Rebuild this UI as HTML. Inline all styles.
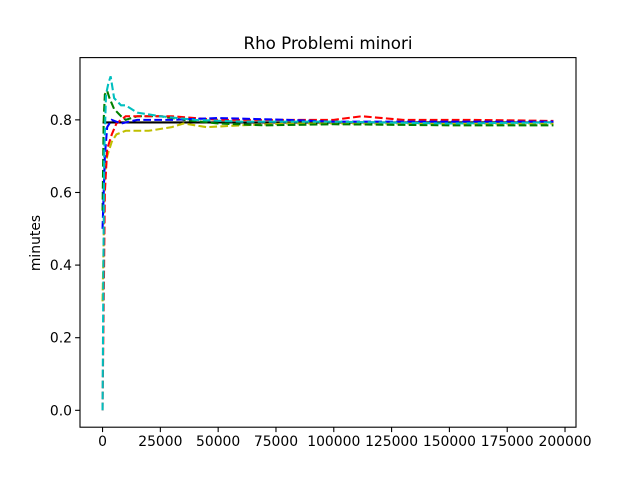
<!DOCTYPE html>
<html><head><meta charset="utf-8"><style>
body{margin:0;background:#fff;}
svg text{font-family:"DejaVu Sans","Liberation Sans",sans-serif;fill:#000;}
</style></head><body>
<svg id="chart" width="640" height="480" xmlns="http://www.w3.org/2000/svg">
<rect width="640" height="480" fill="#fff"/>
<text x="328" y="49" font-size="16.7" text-anchor="middle">Rho Problemi minori</text>
<text transform="translate(40,243) rotate(-90)" font-size="13.9" text-anchor="middle">minutes</text>
<g id="plot"></g>
<g id="axes"></g>
</svg>
<script>
const xTicks=[0,25000,50000,75000,100000,125000,150000,175000,200000];
const yTicks=[0.0,0.2,0.4,0.6,0.8];
const refX=[0,195000];
const refY=[0.793,0.793];
const redX=[0,500,1000,2000,4000,6000,10000,20000,30000,50000,80000,100000,112000,130000,160000,195000];
const redY=[0.0,0.3,0.6,0.72,0.76,0.79,0.81,0.81,0.81,0.80,0.80,0.80,0.81,0.80,0.80,0.797];
const blueX=[0,1000,2000,4000,8000,15000,30000,50000,80000,100000,150000,195000];
const blueY=[0.5,0.7,0.78,0.80,0.79,0.80,0.80,0.805,0.80,0.795,0.795,0.795];
const greenX=[0,500,1000,2000,3000,5000,8000,10000,15000,25000,35000,50000,70000,100000,150000,195000];
const greenY=[0.55,0.8,0.87,0.88,0.86,0.83,0.81,0.80,0.81,0.81,0.80,0.79,0.785,0.788,0.785,0.785];
const yellowX=[0,1000,2000,4000,6000,10000,20000,30000,35000,45000,60000,80000,100000,150000,195000];
const yellowY=[0.3,0.65,0.7,0.74,0.76,0.77,0.77,0.78,0.79,0.78,0.785,0.79,0.79,0.79,0.79];
const cyanX=[0,300,700,1500,2500,3500,5000,8000,10000,15000,25000,40000,60000,100000,150000,195000];
const cyanY=[0.0,0.3,0.7,0.87,0.90,0.92,0.86,0.84,0.84,0.82,0.81,0.80,0.795,0.795,0.79,0.793];

const L=80,R=576,T=57.6,B=427.2;
const xmin=-9750,xmax=204750,ymin=-0.0465,ymax=0.9715;
const sx=v=>L+(v-xmin)/(xmax-xmin)*(R-L);
const sy=v=>B-(v-ymin)/(ymax-ymin)*(B-T);
const NS="http://www.w3.org/2000/svg";
const plot=document.getElementById('plot'),axes=document.getElementById('axes');
function line(xs,ys,color,dash,name){
  const p=document.createElementNS(NS,'polyline');
  p.setAttribute('points',xs.map((x,i)=>sx(x)+','+sy(ys[i])).join(' '));
  p.setAttribute('fill','none');p.setAttribute('stroke',color);p.setAttribute('stroke-width','2.08');
  if(dash)p.setAttribute('stroke-dasharray','7.7,3.3');
  
  
  plot.appendChild(p);
}
line(refX,refY,'#000',false,'reference-line');
line(yellowX,yellowY,'#bfbf00',true,'series-yellow');
line(greenX,greenY,'#008000',true,'series-green');
line(redX,redY,'#ff0000',true,'series-red');
line(blueX,blueY,'#0000ff',true,'series-blue');
line(cyanX,cyanY,'#00bfbf',true,'series-cyan');
const fr=document.createElementNS(NS,'rect');
fr.setAttribute('x',L);fr.setAttribute('y',T);fr.setAttribute('width',R-L);fr.setAttribute('height',B-T);
fr.setAttribute('fill','none');fr.setAttribute('stroke','#000');fr.setAttribute('stroke-width','1.1');


axes.appendChild(fr);
xTicks.forEach(v=>{
  const x=sx(v);
  const t=document.createElementNS(NS,'line');
  t.setAttribute('x1',x);t.setAttribute('x2',x);t.setAttribute('y1',B);t.setAttribute('y2',B+4.9);
  t.setAttribute('stroke','#000');t.setAttribute('stroke-width','1.1');
  
  
  axes.appendChild(t);
  const tx=document.createElementNS(NS,'text');
  tx.setAttribute('x',x);tx.setAttribute('y',B+19);tx.setAttribute('font-size','13.9');tx.setAttribute('text-anchor','middle');
  tx.textContent=String(v);
  
  
  axes.appendChild(tx);
});
yTicks.forEach(v=>{
  const y=sy(v);
  const t=document.createElementNS(NS,'line');
  t.setAttribute('x1',L-4.9);t.setAttribute('x2',L);t.setAttribute('y1',y);t.setAttribute('y2',y);
  t.setAttribute('stroke','#000');t.setAttribute('stroke-width','1.1');
  
  
  axes.appendChild(t);
  const tx=document.createElementNS(NS,'text');
  tx.setAttribute('x',L-8);tx.setAttribute('y',y+5);tx.setAttribute('font-size','13.9');tx.setAttribute('text-anchor','end');
  tx.textContent=v.toFixed(1);
  
  
  axes.appendChild(tx);
});
</script>
</body></html>
